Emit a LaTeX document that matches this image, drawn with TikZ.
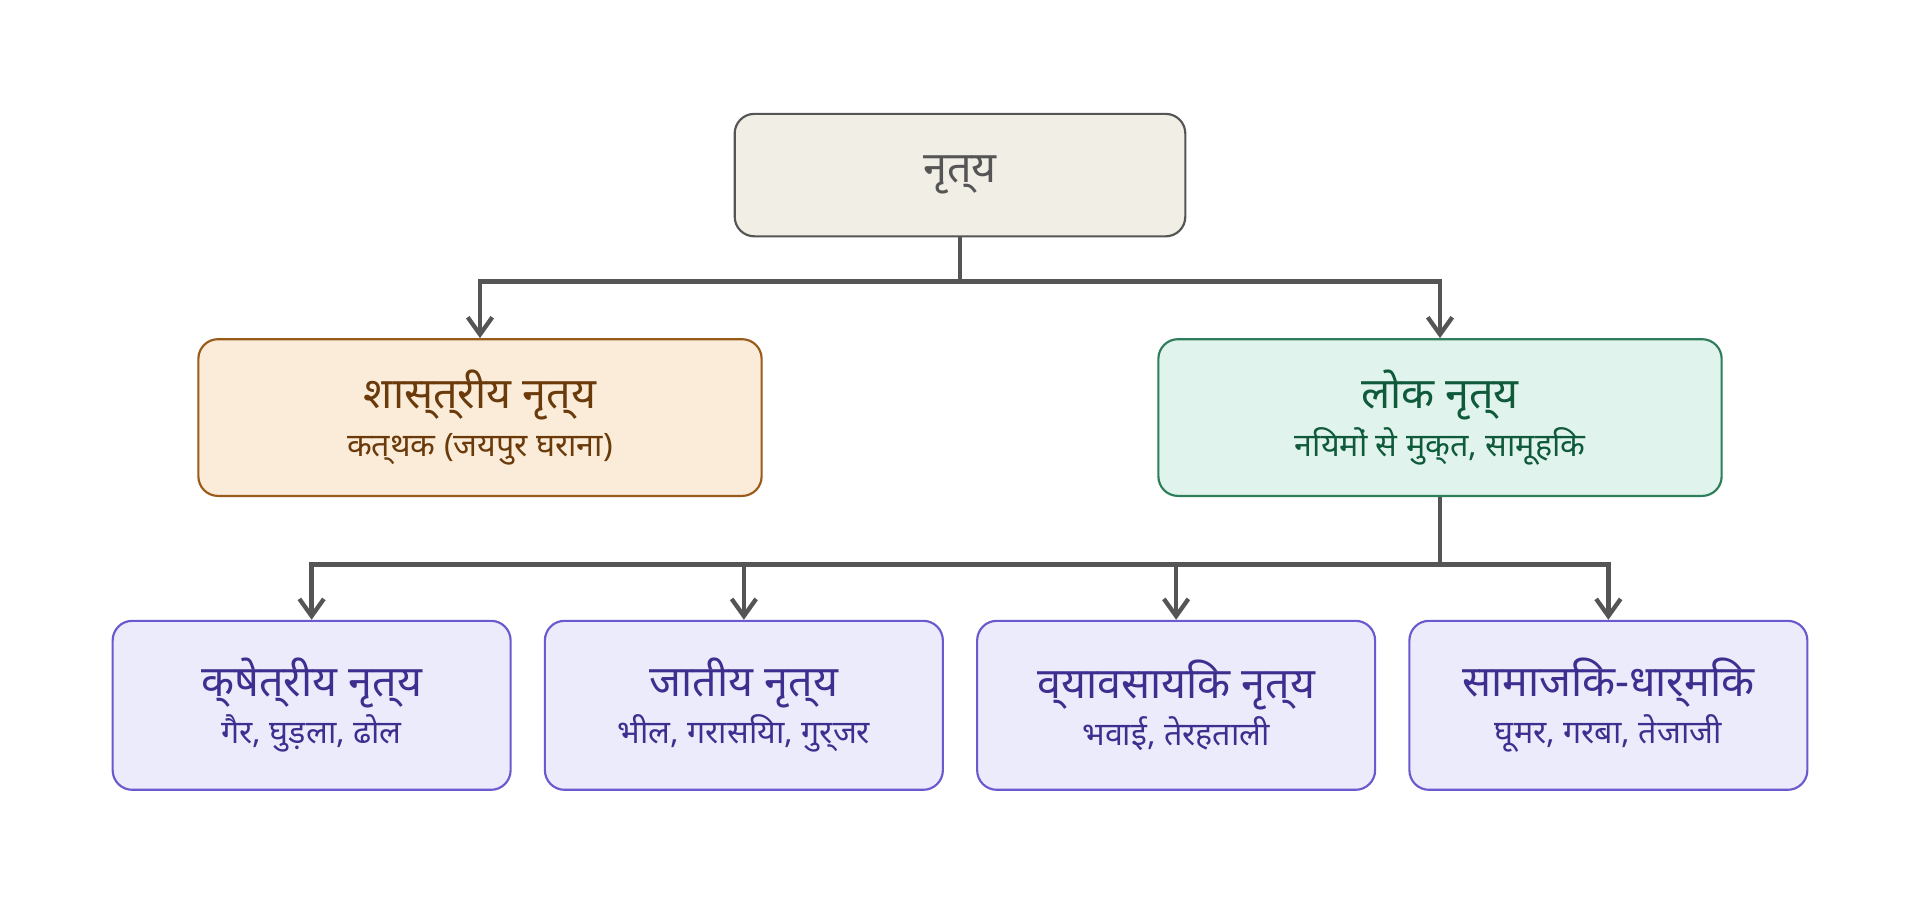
\documentclass[tikz,border=0pt]{standalone}
\usepackage{fontspec}
\setmainfont{Noto Sans}
\usetikzlibrary{positioning,arrows.meta}

\definecolor{rootfill}{HTML}{F1EEE6}
\definecolor{rootline}{HTML}{555555}
\definecolor{shfill}{HTML}{FAECD8}
\definecolor{shline}{HTML}{9A5A1A}
\definecolor{shtext}{HTML}{6B3A0A}
\definecolor{lkfill}{HTML}{E0F3EC}
\definecolor{lkline}{HTML}{2E7D5B}
\definecolor{lktext}{HTML}{0E5A3A}
\definecolor{tpfill}{HTML}{ECEBFB}
\definecolor{tpline}{HTML}{6A5ACD}
\definecolor{tptext}{HTML}{3E2E8F}

\tikzset{
  box/.style={rectangle, rounded corners=0.16cm, line width=0.5pt, align=center},
  rootbox/.style={box, fill=rootfill, draw=rootline, text=rootline,
    minimum width=3.68cm, minimum height=1.0cm, font=\fontsize{10}{12}\selectfont\bfseries},
  midbox/.style={box, minimum width=4.6cm, minimum height=1.28cm},
  typebox/.style={box, fill=tpfill, draw=tpline, text=tptext,
    minimum width=3.25cm, minimum height=1.38cm},
  link/.style={draw=rootline, line width=1.0pt, -{Straight Barb[length=0.14cm,width=0.2cm]}},
}
\newcommand{\twolines}[2]{{\fontsize{10}{13}\selectfont\bfseries #1}\\[-1pt]{\fontsize{7.5}{10}\selectfont #2}}

\begin{document}
\begin{tikzpicture}
  \useasboundingbox (0,0) rectangle (15.68,7.38);

  \node (nritya) [rootbox] at (7.84,5.95) {नृत्य};
  \node (shastriya) [midbox, fill=shfill, draw=shline, text=shtext] at (3.92,3.97)
    {\twolines{शास्त्रीय नृत्य}{कत्थक (जयपुर घराना)}};
  \node (lok) [midbox, fill=lkfill, draw=lkline, text=lktext] at (11.76,3.97)
    {\twolines{लोक नृत्य}{नियमों से मुक्त, सामूहिक}};

  \node (kshetriya) [typebox] at (2.545,1.62) {\twolines{क्षेत्रीय नृत्य}{गैर, घुड़ला, ढोल}};
  \node (jatiya) [typebox] at (6.075,1.62) {\twolines{जातीय नृत्य}{भील, गरासिया, गुर्जर}};
  \node (vyavsayik) [typebox] at (9.605,1.62) {\twolines{व्यावसायिक नृत्य}{भवाई, तेरहताली}};
  \node (samajik) [typebox] at (13.135,1.62) {\twolines{सामाजिक-धार्मिक}{घूमर, गरबा, तेजाजी}};

  % top level
  \coordinate (split1) at (7.84,5.08);
  \draw[link] (nritya.south) -- (split1) -| (shastriya.north);
  \draw[link] (split1) -| (lok.north);

  % folk dance kinds
  \coordinate (split2) at (11.76,2.77);
  \draw[line width=1.0pt, draw=rootline] (lok.south) -- (split2);
  \foreach \kind in {kshetriya,jatiya,vyavsayik,samajik}
    \draw[link] (split2) -| (\kind.north);
\end{tikzpicture}
\end{document}
